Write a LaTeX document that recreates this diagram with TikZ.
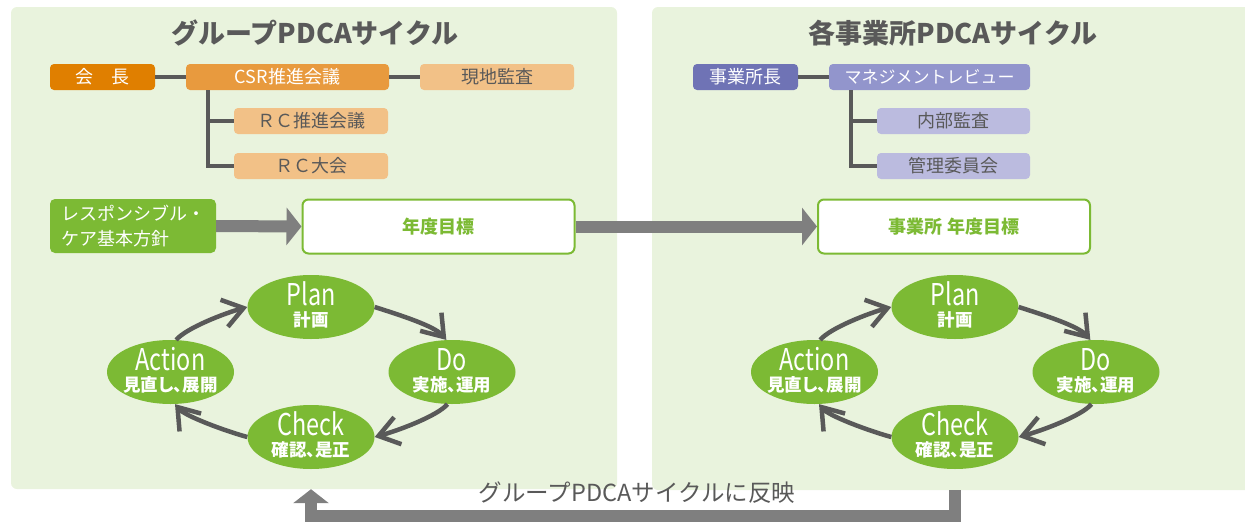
\documentclass[tikz,border=0pt]{standalone}
\usepackage{fontspec}
\setmainfont{Noto Sans CJK JP}
\newfontfamily\latn[FakeStretch=0.78]{Noto Sans CJK JP}
\newfontfamily\jpprop[CharacterWidth=AlternateProportional]{Noto Sans CJK JP}
\usetikzlibrary{arrows.meta,shapes.geometric}

\definecolor{panelbg}{HTML}{E9F3DD}
\definecolor{leaf}{HTML}{7CBA34}
\definecolor{orgA}{HTML}{E07F00}
\definecolor{orgB}{HTML}{E89A3E}
\definecolor{orgC}{HTML}{F2C187}
\definecolor{purA}{HTML}{6F73B5}
\definecolor{purB}{HTML}{9295CC}
\definecolor{purC}{HTML}{BBBBDF}
\definecolor{ink}{HTML}{595959}
\definecolor{fatgray}{HTML}{7F7F7F}

\tikzset{
  panel/.style={fill=panelbg, draw=none, rounded corners=6pt, inner sep=0pt},
  ptitle/.style={font=\bfseries\fontsize{27}{30}\selectfont, text=ink},
  orgbox/.style={rounded corners=4pt, minimum height=26pt, inner sep=0pt,
                 font=\fontsize{18}{20}\selectfont},
  conn/.style={draw=ink, line width=4pt},
  fat/.style={draw=fatgray, line width=12pt, -{Triangle[length=15pt,width=37pt]}},
  fatup/.style={draw=fatgray, line width=12pt, -{Triangle[length=14pt,width=35pt]}},
  goalbox/.style={draw=leaf, fill=white, line width=2pt, rounded corners=6pt,
                  minimum width=272pt, minimum height=54pt, inner sep=0pt,
                  text=leaf, font=\bfseries\fontsize{18}{20}\selectfont},
  cyc/.style={ellipse, fill=leaf, draw=none, minimum width=127pt,
              minimum height=64pt, inner sep=0pt},
  cycL/.style={anchor=base, inner sep=0pt, text=white,
               font=\latn\fontsize{30}{30}\selectfont},
  cycJ/.style={anchor=base, inner sep=0pt, text=white,
               font=\jpprop\bfseries\fontsize{17.5}{18}\selectfont},
  cycarrow/.style={draw=ink, line width=4.5pt,
                   -{Straight Barb[length=20pt,width=28pt]}},
}

% one PDCA stage: ellipse plus its two text lines
\newcommand\stage[5]{%
  \node[cyc] (#1) at (#2,#3) {};
  \node[cycL] (#1L) at ([yshift=2pt]#1.center) {#4};
  \node[cycJ] (#1J) at ([yshift=-19pt]#1.center) {#5};
}

% the four curved arrows of one cycle
\newcommand\cyclearrows[4]{%
  \draw[cycarrow] (#1.east) .. controls +(25,8) and +(-12,-14) .. (#2.100);
  \draw[cycarrow] (#2.262) .. controls +(-10,12) and +(22,-6) .. (#3.east);
  \draw[cycarrow] (#3.west) .. controls +(-22,-6) and +(10,12) .. (#4.278);
  \draw[cycarrow] (#4.80) .. controls +(10,-12) and +(-22,6) .. (#1.west);
}

\begin{document}
\begin{tikzpicture}[x=1pt,y=-1pt]
\useasboundingbox (0,0) rectangle (1245,522);

% background panels
\node[panel, minimum width=606pt, minimum height=482pt] (panelL) at (314,248) {};
\node[panel, minimum width=606pt, minimum height=483pt] (panelR) at (955,248.5) {};

\node[ptitle] (titleL) at (315,33) {グループPDCAサイクル};
\node[ptitle] (titleR) at (953,33) {各事業所PDCAサイクル};

% group organisation
\node[orgbox, fill=orgA, text=white, minimum width=105pt] (kaicho) at (102.5,77) {会　長};
\node[orgbox, fill=orgB, text=white, minimum width=203pt] (csr) at (287.5,77) {CSR推進会議};
\node[orgbox, fill=orgC, text=ink, minimum width=154pt] (genchi) at (497,77) {現地監査};
\node[orgbox, fill=orgC, text=ink, minimum width=154pt] (rc1) at (311,121) {ＲＣ推進会議};
\node[orgbox, fill=orgC, text=ink, minimum width=154pt] (rc2) at (311,166) {ＲＣ大会};

\draw[conn] (kaicho) -- (csr);
\draw[conn] (csr) -- (genchi);
\coordinate (trunkL) at (208,90);
\draw[conn] (trunkL) |- (rc2.west);
\draw[conn] (trunkL |- rc1.west) -- (rc1.west);

% site organisation
\node[orgbox, fill=purA, text=white, minimum width=105pt] (jigyo) at (745.5,77) {事業所長};
\node[orgbox, fill=purB, text=white, minimum width=201pt,
      font=\fontsize{17}{20}\selectfont] (mgmt) at (929.5,77) {マネジメントレビュー};
\node[orgbox, fill=purC, text=ink, minimum width=153pt] (naibu) at (953.5,121) {内部監査};
\node[orgbox, fill=purC, text=ink, minimum width=153pt] (kanri) at (953.5,166) {管理委員会};

\draw[conn] (jigyo) -- (mgmt);
\coordinate (trunkR) at (851,90);
\draw[conn] (trunkR) |- (kanri.west);
\draw[conn] (trunkR |- naibu.west) -- (naibu.west);

% policy and yearly targets
\node[fill=leaf, rounded corners=5pt, minimum width=166pt, minimum height=54pt,
      inner sep=0pt, text=white, align=left,
      font=\fontsize{18}{25}\selectfont] (policy) at (133,226)
      {レスポンシブル・\\ケア基本方針};
\node[goalbox] (goal1) at (438.5,226.5) {年度目標};
\node[goalbox] (goal2) at (954,226.5) {事業所 年度目標};

\draw[fat] (policy.east) -- (goal1.west);
\draw[fat] (goal1.east) -- (goal2.west);

% group PDCA cycle
\stage{p1}{311}{307}{Plan}{計画}
\stage{d1}{452}{372}{Do}{実施、運用}
\stage{c1}{311}{437}{Check}{確認、是正}
\stage{a1}{170.5}{372}{Action}{見直し、展開}
\cyclearrows{p1}{d1}{c1}{a1}

% site PDCA cycle
\stage{p2}{955}{307}{Plan}{計画}
\stage{d2}{1096}{372}{Do}{実施、運用}
\stage{c2}{955}{437}{Check}{確認、是正}
\stage{a2}{814.5}{372}{Action}{見直し、展開}
\cyclearrows{p2}{d2}{c2}{a2}

% feedback from the sites to the group
\draw[fatup] (panelR.south -| c2.center) -- ++(0,26) -| (panelL.south -| c1.center);
\node[text=ink, font=\fontsize{23.5}{25}\selectfont] (feedback) at (637,493)
      {グループPDCAサイクルに反映};

\end{tikzpicture}
\end{document}
